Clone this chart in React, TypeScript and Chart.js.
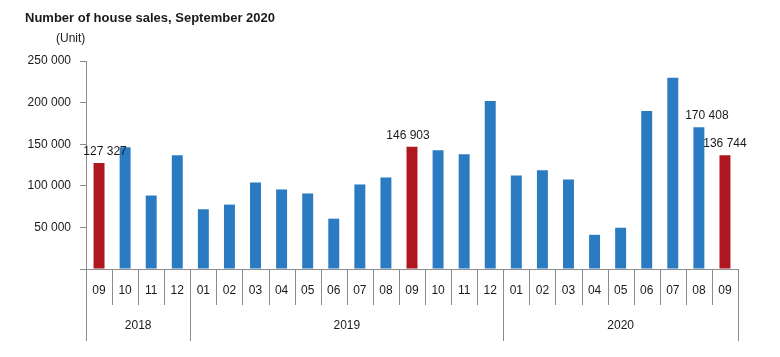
import React, { useEffect, useRef } from "react";
import { Chart, registerables } from "chart.js";

Chart.register(...registerables);

const title = "Number of house sales, September 2020";
const unitLabel = "(Unit)";
const categories = ["09", "10", "11", "12", "01", "02", "03", "04", "05", "06", "07", "08", "09", "10", "11", "12", "01", "02", "03", "04", "05", "06", "07", "08", "09"];
const years = ["2018", "2019", "2020"];
const yearSpans = [4, 12, 9];
const sales = [127327, 146400, 88300, 136700, 71800, 77400, 104000, 95600, 90800, 60500, 101600, 110100, 146903, 142800, 137900, 202000, 112500, 118600, 107700, 41100, 49600, 190000, 229900, 170408, 136744];
const highlighted = [0, 12, 24];
const labelled = [0, 12, 23, 24];
const yTicks = [0, 50000, 100000, 150000, 200000, 250000];

const BLUE = "#2a7bc2";
const RED = "#b0161f";
const AXIS = "#8c8c8c";
const TEXT = "#1a1a1a";
const FONT = "'Liberation Sans', Arial, sans-serif";
const labelDx: Record<number, number> = { 0: 6, 12: -4, 23: 8, 24: 0 };

const fmt = (v: number) => String(v).replace(/\B(?=(\d{3})+(?!\d))/g, " ");

const decorPlugin = {
  id: "decor",
  afterDraw(chart: any) {
    const ctx = chart.ctx;
    const x = chart.scales.x;
    const area = chart.chartArea;
    const half = (x.getPixelForValue(1) - x.getPixelForValue(0)) / 2;
    ctx.save();
    // title & unit
    ctx.fillStyle = TEXT;
    ctx.textAlign = "left";
    ctx.textBaseline = "alphabetic";
    ctx.font = `bold 13px ${FONT}`;
    ctx.fillText(title, 25, 22);
    ctx.font = `12px ${FONT}`;
    ctx.fillText(unitLabel, 56, 42);

    // dividers
    const yearBounds = new Set<number>();
    let acc = 0;
    yearBounds.add(0);
    yearSpans.forEach((s) => {
      acc += s;
      yearBounds.add(acc);
    });
    ctx.strokeStyle = AXIS;
    ctx.lineWidth = 1;
    for (let i = 0; i <= categories.length; i++) {
      const px = Math.round(x.getPixelForValue(i) - half) + 0.5;
      const bottom = yearBounds.has(i) ? area.bottom + 72 : area.bottom + 36;
      ctx.beginPath();
      ctx.moveTo(px, area.bottom);
      ctx.lineTo(px, bottom);
      ctx.stroke();
    }
    // year labels
    ctx.fillStyle = TEXT;
    ctx.font = `12px ${FONT}`;
    ctx.textAlign = "center";
    ctx.textBaseline = "middle";
    let start = 0;
    years.forEach((yr, k) => {
      const end = start + yearSpans[k];
      const cx = (x.getPixelForValue(start) + x.getPixelForValue(end - 1)) / 2;
      ctx.fillText(yr, cx, area.bottom + 57);
      start = end;
    });

    // value labels
    const meta = chart.getDatasetMeta(0);
    ctx.textBaseline = "alphabetic";
    ctx.font = `12px ${FONT}`;
    labelled.forEach((i) => {
      const el = meta.data[i];
      ctx.fillText(fmt(sales[i]), el.x + (labelDx[i] || 0), el.y - 8);
    });
    ctx.restore();
  },
};

export default function App() {
  const ref = useRef<HTMLCanvasElement>(null);
  useEffect(() => {
    if (!ref.current) return;
    const chart = new Chart(ref.current, {
      type: "bar",
      data: {
        labels: categories,
        datasets: [
          {
            data: sales,
            backgroundColor: sales.map((_, i) => (highlighted.includes(i) ? RED : BLUE)),
            barPercentage: 0.42,
            categoryPercentage: 1,
          },
        ],
      },
      options: {
        animation: false,
        responsive: false,
        maintainAspectRatio: false,
        layout: { padding: { left: 0, top: 61, right: 42, bottom: 0 } },
        plugins: { legend: { display: false }, tooltip: { enabled: false }, title: { display: false } },
        scales: {
          x: {
            grid: { display: false, drawTicks: false },
            border: { display: true, color: AXIS, width: 1 },
            ticks: { color: TEXT, font: { family: FONT, size: 12 }, padding: 14, maxRotation: 0, autoSkip: false },
            afterFit: (s: any) => {
              s.height = 88;
            },
          },
          y: {
            min: 0,
            max: 250000,
            afterBuildTicks: (s: any) => {
              s.ticks = yTicks.map((v) => ({ value: v }));
            },
            grid: { display: true, drawOnChartArea: false, drawTicks: true, tickLength: 6, color: AXIS },
            border: { display: true, color: AXIS, width: 1 },
            ticks: {
              color: TEXT,
              font: { family: FONT, size: 12 },
              padding: 9,
              callback: (v: any) => (Number(v) === 0 ? "" : fmt(Number(v))),
            },
            afterFit: (s: any) => {
              s.width = 86;
            },
          },
        },
      },
      plugins: [decorPlugin],
    });
    return () => chart.destroy();
  }, []);
  return (
    <div style={{ position: "fixed", left: 0, top: 0, width: 780, height: 357, background: "#fff" }}>
      <canvas ref={ref} width={780} height={357} style={{ width: 780, height: 357 }} />
    </div>
  );
}
